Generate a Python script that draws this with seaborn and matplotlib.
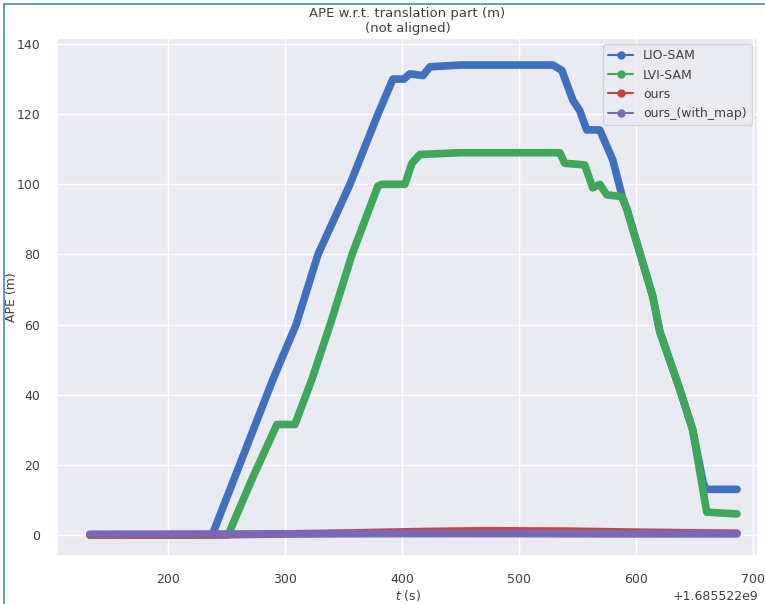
import matplotlib
matplotlib.use("Agg")
import matplotlib.pyplot as plt
from matplotlib.lines import Line2D
import numpy as np
import pandas as pd
import seaborn as sns

# Time base (s) and per-method APE samples, times relative to T0
T0 = 1685522000

lio_t = [133, 237.6, 289.7, 309.3, 328.0, 355.3, 379.2, 392.0, 401.4, 406.5,
         417.7, 423.6, 449.2, 528.6, 536.3, 545.7, 551.6, 557.6, 568.7, 579.8,
         588.3, 591.8, 614.0, 620.0, 637.0, 648.1, 657.0, 659.5, 686]
lio_ape = [0.0, 0.0, 44.5, 60.0, 80.0, 100.0, 120.0, 130.0, 130.0, 131.5,
           131.0, 133.5, 134.0, 134.0, 132.5, 124.0, 121.0, 115.5, 115.5, 107.0,
           96.0, 93.0, 68.0, 58.0, 41.6, 30.0, 15.0, 13.0, 13.0]

lvi_t = [133, 251.2, 271.7, 292.9, 308.3, 322.9, 338.4, 357.1, 379.2, 382.6,
         402.2, 408.3, 415.0, 449.2, 534.6, 538.8, 555.9, 562.7, 568.7, 574.7,
         587.5, 591.8, 614.0, 620.0, 637.0, 648.1, 660.1, 686]
lvi_ape = [0.0, 0.0, 16.0, 31.5, 31.5, 44.5, 60.0, 80.0, 99.5, 100.0,
           100.0, 106.0, 108.5, 109.0, 109.0, 106.0, 105.5, 99.0, 100.0, 97.0,
           96.5, 93.0, 68.0, 58.0, 41.6, 30.0, 6.5, 6.0]

ours_t = [133, 240, 300, 360, 420, 470, 540, 600, 650, 686]
ours_ape = [0.0, 0.0, 0.3, 0.6, 1.0, 1.2, 1.1, 0.8, 0.6, 0.5]

map_t = [133, 300, 450, 600, 686]
map_ape = [0.2, 0.3, 0.4, 0.3, 0.3]

names = ["LIO-SAM", "LVI-SAM", "ours", "ours_(with_map)"]
colors = ["#3f6fbf", "#3fa65a", "#c8453f", "#7b68b5"]

frames = []
for name, t, v in zip(names, [lio_t, lvi_t, ours_t, map_t],
                      [lio_ape, lvi_ape, ours_ape, map_ape]):
    frames.append(pd.DataFrame({"t": np.asarray(t) + T0, "ape": v, "method": name}))
df = pd.concat(frames, ignore_index=True)

sns.set_theme(style="darkgrid")
plt.rcParams["font.family"] = ["DejaVu Sans"]
text_color = "0.25"

fig = plt.figure(figsize=(7.65, 6.04), dpi=100)
ax = fig.add_axes([0.0745, 0.0795, 0.9165, 0.8575])

sns.lineplot(data=df, x="t", y="ape", hue="method", hue_order=names,
             palette=colors, linewidth=5.5, sort=False, estimator=None,
             legend=False, ax=ax)

ax.set_xlim(T0 + 105, T0 + 704)
ax.set_ylim(-6.0, 141.7)
ax.set_xlabel("$t$ (s)", fontsize=9, labelpad=2, color=text_color)
ax.set_ylabel("APE (m)", fontsize=9, color=text_color)
ax.yaxis.set_label_coords(-0.056, 0.5)
ax.set_title("APE w.r.t. translation part (m)\n(not aligned)", fontsize=9.5,
             pad=4, color=text_color)
ax.tick_params(labelsize=9, pad=6, labelcolor=text_color)
ax.xaxis.get_offset_text().set_fontsize(9)
ax.xaxis.get_offset_text().set_color(text_color)

handles = [Line2D([], [], color=c, marker="o", markersize=5, linewidth=1.5)
           for c in colors]
leg = ax.legend(handles, names, loc="upper right", fontsize=9, frameon=True)
for txt in leg.get_texts():
    txt.set_color(text_color)

# document frame lines along left and top edges
fig.add_artist(Line2D([0.005, 0.005], [0.0, 0.993], color="#4a86c5",
                      linewidth=1.2, transform=fig.transFigure))
fig.add_artist(Line2D([0.005, 1.0], [0.993, 0.993], color="#4a86c5",
                      linewidth=1.2, transform=fig.transFigure))

fig.savefig("out.png", dpi=100)
